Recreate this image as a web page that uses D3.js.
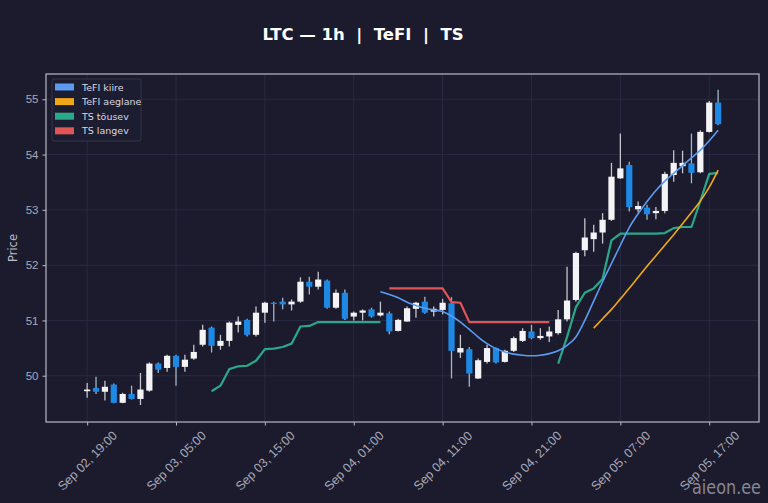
<!DOCTYPE html>
<html>
<head>
<meta charset="utf-8">
<script src="https://cdn.jsdelivr.net/npm/d3@7"></script>
<style>
  html, body { margin: 0; padding: 0; background: #1b1b2d; }
  svg { display: block; font-family: "DejaVu Sans", sans-serif; }
</style>
</head>
<body>
<div id="chart"></div>
<script>
// LTC 1h candles with TeFI + TS lines

// candles, Sep 02 19:00 -> Sep 05 18:00, hourly
const startTime = new Date(Date.UTC(2025, 8, 2, 19, 0));

const opens = [
  49.72, 49.78, 49.71, 49.84, 49.51, 49.67, 49.58, 49.73, 50.22, 50.14,
  50.36, 50.16, 50.31, 50.56, 50.87, 50.54, 50.63, 50.92, 51.01, 50.74,
  51.14, 51.32, 51.34, 51.29, 51.34, 51.70, 51.61, 51.72, 51.23, 51.50,
  51.07, 51.14, 51.20, 51.09, 51.13, 50.81, 50.98, 51.21, 51.34, 51.16,
  51.19, 51.31, 50.42, 50.48, 49.95, 50.25, 50.50, 50.25, 50.45, 50.63,
  50.80, 50.68, 50.71, 50.77, 51.02, 51.37, 52.27, 52.47, 52.59, 52.82,
  53.57, 53.81, 53.01, 53.04, 52.94, 52.98, 53.63, 53.79, 53.84, 53.68,
  54.41, 54.94
];
const highs = [
  49.87, 49.98, 49.91, 49.86, 49.69, 49.82, 50.05, 50.24, 50.24, 50.38,
  50.38, 50.38, 50.56, 50.92, 50.89, 50.74, 50.98, 51.07, 51.03, 51.25,
  51.34, 51.34, 51.41, 51.38, 51.78, 51.79, 51.88, 51.74, 51.56, 51.56,
  51.16, 51.20, 51.23, 51.34, 51.16, 51.03, 51.25, 51.34, 51.43, 51.25,
  51.39, 51.42, 50.74, 50.52, 50.31, 50.56, 50.51, 50.47, 50.71, 50.86,
  50.92, 50.86, 50.89, 51.19, 51.97, 52.24, 52.85, 52.73, 52.94, 53.85,
  54.38, 53.87, 53.15, 53.09, 53.05, 53.69, 54.08, 54.07, 54.38, 54.44,
  54.97, 55.17
];
const lows = [
  49.60, 49.67, 49.55, 49.50, 49.50, 49.57, 49.47, 49.71, 50.05, 50.07,
  49.82, 50.07, 50.29, 50.53, 50.42, 50.47, 50.53, 50.78, 50.71, 50.71,
  50.96, 50.98, 51.20, 51.18, 51.32, 51.47, 51.56, 51.21, 51.21, 51.01,
  51.00, 51.00, 51.05, 51.07, 50.75, 50.80, 50.98, 51.05, 51.12, 51.07,
  51.11, 49.95, 50.32, 49.80, 49.94, 50.22, 50.22, 50.24, 50.43, 50.61,
  50.66, 50.65, 50.61, 50.74, 50.98, 51.34, 52.16, 52.24, 52.39, 52.80,
  53.56, 52.97, 52.95, 52.82, 52.83, 52.94, 53.51, 53.66, 53.48, 53.66,
  54.40, 54.53
];
const closes = [
  49.75, 49.71, 49.80, 49.51, 49.67, 49.58, 49.75, 50.22, 50.11, 50.36,
  50.16, 50.29, 50.43, 50.83, 50.54, 50.63, 50.96, 50.98, 50.74, 51.14,
  51.32, 51.30, 51.29, 51.34, 51.70, 51.61, 51.74, 51.23, 51.50, 51.03,
  51.14, 51.18, 51.07, 51.14, 50.80, 51.01, 51.22, 51.32, 51.14, 51.21,
  51.32, 50.45, 50.50, 50.04, 50.28, 50.50, 50.24, 50.45, 50.68, 50.81,
  50.68, 50.72, 50.80, 51.02, 51.36, 52.22, 52.50, 52.59, 52.82, 53.60,
  53.75, 53.05, 53.07, 52.92, 52.98, 53.65, 53.85, 53.85, 53.67, 54.41,
  54.94, 54.55
];

// indicator lines (null = not drawn)
const none = n => Array(n).fill(null);
const tefiFast = none(33).concat([
  51.52, 51.47, 51.41, 51.33, 51.27, 51.22, 51.19, 51.16, 51.08, 50.97,
  50.84, 50.70, 50.58, 50.49, 50.43, 50.39, 50.37, 50.36, 50.37, 50.40,
  50.45, 50.55, 50.70, 51.00, 51.35, 51.70, 52.03, 52.36, 52.68, 52.93,
  53.15, 53.35, 53.52, 53.66, 53.80, 53.94, 54.08, 54.25, 54.44
]);
const tefiSlow = none(57).concat([
  50.86, 51.03, 51.20, 51.39, 51.58, 51.78, 51.98, 52.17, 52.36, 52.55,
  52.75, 52.95, 53.16, 53.41, 53.72
]);
const tsUp = none(14).concat([
  49.72, 49.82, 50.12, 50.17, 50.18, 50.27, 50.48, 50.49, 50.52, 50.58,
  50.89, 50.90, 50.97, 50.97, 50.97, 50.97, 50.97, 50.97, 50.97, 50.97
], none(19), [
  50.22, 50.70, 51.24, 51.50, 51.58, 51.75, 52.45, 52.57, 52.57, 52.57,
  52.57, 52.57, 52.58, 52.67, 52.69, 52.69, 53.16, 53.65, 53.67
]);
const tsDown = none(34).concat([
  51.58, 51.58, 51.58, 51.58, 51.58, 51.58, 51.58, 51.33, 51.32, 50.97,
  50.97, 50.97, 50.97, 50.97, 50.97, 50.97, 50.97, 50.97, 50.97
]);

const seriesNames = ["TeFI kiire", "TeFI aeglane", "TS tõusev", "TS langev"];
const seriesColors = ["#5b9cf0", "#f0a818", "#2aa88a", "#e05555"];
const yTicks = [50, 51, 52, 53, 54, 55];
const xTickHours = [0, 10, 20, 30, 40, 50, 60, 70];

const W = 768, H = 503;
const margin = {top: 74, right: 9, bottom: 81, left: 46};
const width = W - margin.left - margin.right,
      height = H - margin.top - margin.bottom;

const hour = 3600 * 1000;
const timeAt = i => new Date(startTime.getTime() + i * hour);

const svg = d3.select("#chart").append("svg")
    .attr("width", W).attr("height", H);
svg.append("rect").attr("width", W).attr("height", H).attr("fill", "#1b1b2d");

const g = svg.append("g")
    .attr("transform", `translate(${margin.left}, ${margin.top})`);

// scales
const x = d3.scaleUtc()
  .domain([timeAt(-4.63), timeAt(75.6)])
  .range([0, width]);
const y = d3.scaleLinear()
  .domain([49.163, 55.457])
  .range([height, 0]);

// grid
g.append("g").selectAll("line").data(yTicks).join("line")
  .attr("x1", 0).attr("x2", width)
  .attr("y1", d => y(d)).attr("y2", d => y(d))
  .attr("stroke", "#2b2e48").attr("stroke-width", 0.8);
g.append("g").selectAll("line").data(xTickHours).join("line")
  .attr("y1", 0).attr("y2", height)
  .attr("x1", d => x(timeAt(d))).attr("x2", d => x(timeAt(d)))
  .attr("stroke", "#2b2e48").attr("stroke-width", 0.8);

// candles
const candles = opens.map((o, i) => ({i: i, o: o, h: highs[i], l: lows[i], c: closes[i]}));
const bodyW = 6.2;
const cg = g.append("g");
cg.selectAll("line.wick").data(candles).join("line")
  .attr("class", "wick")
  .attr("x1", d => x(timeAt(d.i))).attr("x2", d => x(timeAt(d.i)))
  .attr("y1", d => y(d.h)).attr("y2", d => y(d.l))
  .attr("stroke", d => d.c >= d.o ? "#c4c4cc" : "#9fb4cc")
  .attr("stroke-width", 1.3);
cg.selectAll("rect").data(candles).join("rect")
  .attr("x", d => x(timeAt(d.i)) - bodyW / 2)
  .attr("width", bodyW)
  .attr("y", d => y(Math.max(d.o, d.c)))
  .attr("height", d => Math.max(1.2, Math.abs(y(d.o) - y(d.c))))
  .attr("fill", d => d.c >= d.o ? "#f4f4f6" : "#1e88e5");

// indicator lines
const line = d3.line()
  .defined(d => d != null)
  .x((d, i) => x(timeAt(i)))
  .y(d => y(d));
const smoothLine = d3.line()
  .defined(d => d != null)
  .curve(d3.curveMonotoneX)
  .x((d, i) => x(timeAt(i)))
  .y(d => y(d));
const lineData = [tefiFast, tefiSlow, tsUp, tsDown];
const lineWidths = [1.6, 1.6, 2.2, 2.2];
[2, 3, 1, 0].forEach(k => {
  g.append("path")
    .datum(lineData[k])
    .attr("d", k < 2 ? smoothLine : line)
    .attr("fill", "none")
    .attr("stroke", seriesColors[k])
    .attr("stroke-width", lineWidths[k])
    .attr("stroke-linejoin", "round");
});

// frame
g.append("rect").attr("width", width).attr("height", height)
  .attr("fill", "none").attr("stroke", "#b8b8c4").attr("stroke-width", 1.2);

// y axis
const yAxis = g.append("g")
  .call(d3.axisLeft(y).tickValues(yTicks).tickSize(3.5).tickPadding(4)
    .tickFormat(d3.format("d")));
yAxis.select(".domain").remove();
yAxis.selectAll("line").attr("stroke", "#b8b8c4");
yAxis.selectAll("text").attr("fill", "#a9a9b8").attr("font-size", 11.5);

// x axis
const xAxis = g.append("g")
  .attr("transform", `translate(0, ${height})`)
  .call(d3.axisBottom(x).tickValues(xTickHours.map(timeAt)).tickSize(3.5)
    .tickFormat(d3.utcFormat("%b %d, %H:%M")));
xAxis.select(".domain").remove();
xAxis.selectAll("line").attr("stroke", "#b8b8c4");
xAxis.selectAll("text")
  .attr("fill", "#a9a9b8").attr("font-size", 12.5)
  .attr("text-anchor", "middle")
  .attr("dy", null)
  .attr("dominant-baseline", "central")
  .attr("y", 39)
  .attr("transform", "rotate(-45, 0, 39)");

// y label
svg.append("text")
  .attr("transform", `translate(17, ${margin.top + height / 2}) rotate(-90)`)
  .attr("text-anchor", "middle")
  .attr("fill", "#bdbdca").attr("font-size", 11.5)
  .text("Price");

// title
svg.append("text")
  .attr("x", 363).attr("y", 40)
  .attr("text-anchor", "middle")
  .attr("fill", "#ffffff").attr("font-size", 16.5).attr("font-weight", "bold")
  .style("white-space", "pre")
  .text("LTC — 1h  |  TeFI  |  TS");

// legend
const lg = g.append("g").attr("transform", "translate(6, 5)");
lg.append("rect").attr("width", 89).attr("height", 62).attr("rx", 2)
  .attr("fill", "#1d1d31").attr("stroke", "#3a3b52").attr("stroke-width", 0.8);
seriesNames.forEach((name, k) => {
  const row = lg.append("g").attr("transform", `translate(3, ${8 + k * 14.6})`);
  row.append("rect").attr("x", 0).attr("y", -3.5).attr("width", 19).attr("height", 7)
    .attr("fill", seriesColors[k]);
  row.append("text").attr("x", 27).attr("y", 0).attr("dominant-baseline", "central")
    .attr("fill", "#d8d8e0").attr("font-size", 9.5).text(name);
});

// watermark
svg.append("text")
  .attr("x", 761).attr("y", 494)
  .attr("text-anchor", "end")
  .attr("fill", "#a2a2ae").attr("font-size", 19).attr("opacity", 0.8)
  .attr("textLength", 69).attr("lengthAdjust", "spacingAndGlyphs")
  .text("aieon.ee");
</script>
</body>
</html>
